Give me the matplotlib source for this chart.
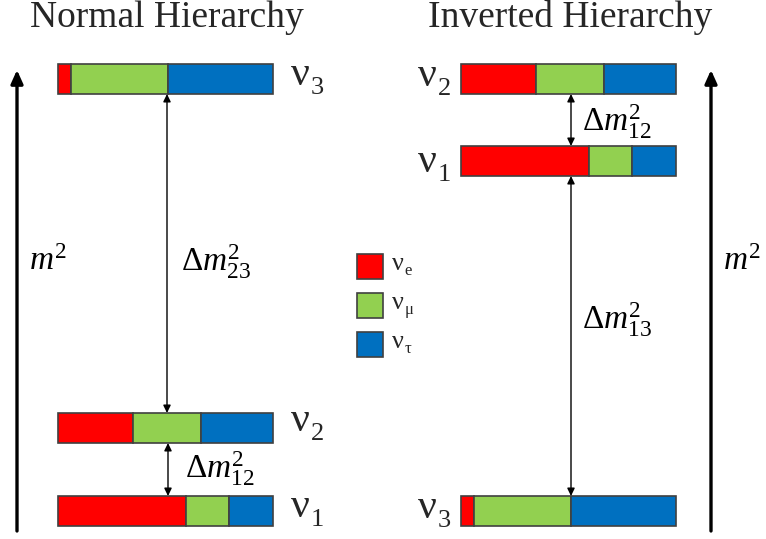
import matplotlib
matplotlib.use("Agg")
import matplotlib.pyplot as plt

plt.rcParams['mathtext.fontset'] = 'custom'
plt.rcParams['mathtext.rm'] = 'Liberation Serif'
plt.rcParams['mathtext.it'] = 'Liberation Serif:italic'
plt.rcParams['mathtext.bf'] = 'Liberation Serif:bold'

# flavour content of each mass state (e, mu, tau)
flavors = ['e', 'μ', 'τ']
flavor_colors = ['#FF0000', '#92D050', '#0070C0']
nu1_mix = [0.595, 0.20, 0.205]
nu2_mix = [0.35, 0.315, 0.335]
nu3_mix = [0.06, 0.45, 0.49]

# (label, mixing, bar centre px, label baseline px)
normal_levels = [('3', nu3_mix, 79, 85), ('2', nu2_mix, 428, 431), ('1', nu1_mix, 511, 517)]
inverted_levels = [('2', nu2_mix, 79, 86), ('1', nu1_mix, 161, 172), ('3', nu3_mix, 511, 518)]

fig = plt.figure(figsize=(7.66, 5.39), dpi=100)
ax = fig.add_axes([0, 0, 1, 1])
ax.set_xlim(0, 766)
ax.set_ylim(539, 0)
ax.axis('off')

BAR_W, BAR_H = 215, 30
edge = '#404040'
txt = '#262626'
serif = 'Liberation Serif'


def draw_level(x0, yc, mix):
    left = x0
    for frac, col in zip(mix, flavor_colors):
        ax.barh(yc, frac * BAR_W, left=left, height=BAR_H, color=col,
                edgecolor=edge, linewidth=1.2)
        left += frac * BAR_W


def thin_arrow(x, y0, y1, label, lx, ly):
    ax.annotate('', xy=(x, y1), xytext=(x, y0),
                arrowprops=dict(arrowstyle='<|-|>,head_length=0.45,head_width=0.22',
                                color='k', lw=1, shrinkA=0, shrinkB=0,
                                mutation_scale=10))
    ax.text(lx, ly, label, fontsize=24, va='center', ha='left', color='k')


def big_arrow(x):
    ax.annotate('', xy=(x, 70), xytext=(x, 531),
                arrowprops=dict(arrowstyle='-|>,head_length=0.8,head_width=0.36',
                                color='k', lw=2.4, shrinkA=0, shrinkB=0,
                                mutation_scale=10))


def nu_label(x, base, sub, size, sub_size, drop):
    t = ax.text(x, base, 'ν', family=serif, fontsize=size,
                ha='left', va='baseline', color=txt)
    ax.annotate(sub, xy=(1, 0), xycoords=t, xytext=(0.5, -drop),
                textcoords='offset points', family=serif, fontsize=sub_size,
                ha='left', va='baseline', color=txt)


# Normal hierarchy
ax.text(167, 27, 'Normal Hierarchy', fontsize=27, family=serif,
        ha='center', va='baseline', color=txt)
for lab, mix, yc, base in normal_levels:
    draw_level(58, yc, mix)
    nu_label(291, base, lab, 30, 19, 0)
thin_arrow(167, 94, 413, '$\\Delta m^2_{23}$', 181, 262)
thin_arrow(168, 443, 496, '$\\Delta m^2_{12}$', 185, 469)
big_arrow(17)
ax.text(29, 260, '$m^2$', fontsize=24, va='center', ha='left', color='k')

# Inverted hierarchy
ax.text(570, 27, 'Inverted Hierarchy', fontsize=27, family=serif,
        ha='center', va='baseline', color=txt)
for lab, mix, yc, base in inverted_levels:
    draw_level(461, yc, mix)
    nu_label(418, base, lab, 30, 19, 0)
thin_arrow(571, 94, 146, '$\\Delta m^2_{12}$', 582, 122)
thin_arrow(571, 176, 496, '$\\Delta m^2_{13}$', 582, 320)
big_arrow(711)
ax.text(723, 260, '$m^2$', fontsize=24, va='center', ha='left', color='k')

# Legend
leg_y = [266, 305, 344]
for fl, col, yc in zip(flavors, flavor_colors, leg_y):
    ax.barh(yc, 26, left=357, height=25, color=col, edgecolor=edge, linewidth=1.2)
    nu_label(392, yc + 4, fl, 19, 12, 0)

fig.savefig('out.png', dpi=100)
